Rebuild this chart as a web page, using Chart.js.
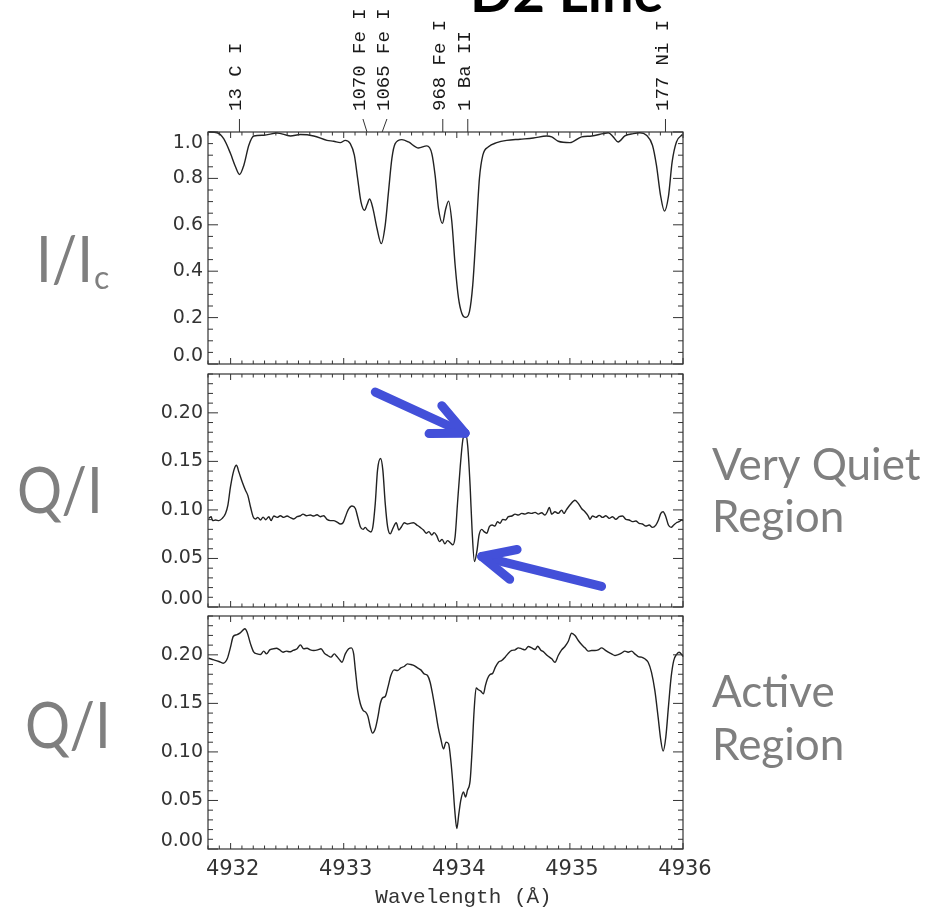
<!DOCTYPE html>
<html>
<head>
<meta charset="utf-8">
<script src="https://cdn.jsdelivr.net/npm/chart.js@4.4.1/dist/chart.umd.min.js"></script>
<style>
  html, body { margin: 0; padding: 0; background: #fff; }
  body { width: 936px; height: 914px; position: relative; overflow: hidden; }
  canvas { position: absolute; left: 0; }
</style>
</head>
<body>
<canvas id="intensity" width="936" height="372" style="top:0px"></canvas>
<canvas id="quiet" width="936" height="240" style="top:372px"></canvas>
<canvas id="active" width="936" height="302" style="top:612px"></canvas>

<script>
// wavelength axis (Angstrom)
const waveMin = 4931.8;
const waveMax = 4936;
const waveTicks = [4932, 4933, 4934, 4935, 4936];

// line identifications above the top panel
const lineNames = ["13 C I", "1070 Fe I", "1065 Fe I", "968 Fe I", "1 Ba II", "177 Ni I"];
const lineWave = [4932.078, 4933.206, 4933.340, 4933.876, 4934.097, 4935.845];
const lineLabelWave = [4932.078, 4933.170, 4933.382, 4933.876, 4934.097, 4935.845];

// I/Ic intensity profile
const intensityWave = [
  4931.805, 4931.881, 4931.940, 4931.999, 4932.043, 4932.079, 4932.117, 4932.161, 4932.205, 4932.293,
  4932.411, 4932.529, 4932.617, 4932.735, 4932.852, 4932.911, 4932.970, 4933.014, 4933.058, 4933.094,
  4933.123, 4933.152, 4933.185, 4933.205, 4933.229, 4933.258, 4933.294, 4933.332, 4933.367, 4933.396,
  4933.426, 4933.455, 4933.514, 4933.573, 4933.661, 4933.735, 4933.779, 4933.808, 4933.838, 4933.873,
  4933.900, 4933.927, 4933.956, 4933.985, 4934.015, 4934.044, 4934.077, 4934.112, 4934.141, 4934.171,
  4934.200, 4934.230, 4934.280, 4934.353, 4934.441, 4934.559, 4934.677, 4934.794, 4934.839, 4934.897,
  4935.000, 4935.103, 4935.192, 4935.295, 4935.339, 4935.383, 4935.427, 4935.486, 4935.560, 4935.618,
  4935.677, 4935.730, 4935.765, 4935.801, 4935.836, 4935.871, 4935.904, 4935.942, 4935.995
];
const intensityValue = [
  1.000, 0.997, 0.970, 0.907, 0.850, 0.817, 0.857, 0.943, 0.983, 0.986,
  0.996, 0.983, 0.989, 0.983, 0.964, 0.960, 0.954, 0.964, 0.950, 0.900,
  0.800, 0.700, 0.662, 0.685, 0.711, 0.671, 0.585, 0.519, 0.599, 0.742,
  0.886, 0.950, 0.967, 0.957, 0.931, 0.940, 0.907, 0.814, 0.671, 0.606,
  0.665, 0.702, 0.613, 0.427, 0.284, 0.219, 0.201, 0.226, 0.341, 0.570,
  0.800, 0.900, 0.936, 0.954, 0.964, 0.969, 0.974, 0.983, 0.979, 0.960,
  0.954, 0.979, 0.983, 0.993, 0.997, 0.979, 0.957, 0.983, 0.993, 0.997,
  0.986, 0.943, 0.857, 0.728, 0.659, 0.721, 0.871, 0.957, 0.989
];

// Q/I, very quiet region
const quietWave = [
  4931.805, 4931.828, 4931.840, 4931.867, 4931.896, 4931.926, 4931.955, 4931.976, 4931.999, 4932.029,
  4932.052, 4932.073, 4932.102, 4932.132, 4932.152, 4932.176, 4932.199, 4932.220, 4932.240, 4932.264,
  4932.287, 4932.311, 4932.338, 4932.358, 4932.382, 4932.411, 4932.440, 4932.470, 4932.499, 4932.529,
  4932.558, 4932.588, 4932.617, 4932.640, 4932.670, 4932.705, 4932.735, 4932.764, 4932.793, 4932.823,
  4932.852, 4932.882, 4932.911, 4932.941, 4932.970, 4932.994, 4933.015, 4933.038, 4933.073, 4933.103,
  4933.123, 4933.147, 4933.171, 4933.191, 4933.211, 4933.240, 4933.258, 4933.279, 4933.299, 4933.326,
  4933.346, 4933.367, 4933.388, 4933.411, 4933.435, 4933.464, 4933.488, 4933.511, 4933.535, 4933.564,
  4933.588, 4933.617, 4933.647, 4933.676, 4933.705, 4933.729, 4933.753, 4933.779, 4933.799, 4933.823,
  4933.846, 4933.870, 4933.894, 4933.918, 4933.941, 4933.965, 4933.985, 4934.006, 4934.030, 4934.053,
  4934.077, 4934.097, 4934.118, 4934.135, 4934.156, 4934.177, 4934.197, 4934.221, 4934.241, 4934.265,
  4934.288, 4934.312, 4934.338, 4934.359, 4934.383, 4934.406, 4934.430, 4934.456, 4934.486, 4934.515,
  4934.544, 4934.574, 4934.603, 4934.633, 4934.662, 4934.692, 4934.721, 4934.750, 4934.780, 4934.800,
  4934.818, 4934.839, 4934.868, 4934.897, 4934.927, 4934.947, 4934.971, 4935.000, 4935.045, 4935.074,
  4935.103, 4935.133, 4935.162, 4935.177, 4935.200, 4935.230, 4935.259, 4935.289, 4935.318, 4935.348,
  4935.377, 4935.406, 4935.436, 4935.465, 4935.495, 4935.524, 4935.553, 4935.583, 4935.612, 4935.642,
  4935.671, 4935.701, 4935.730, 4935.760, 4935.783, 4935.804, 4935.824, 4935.848, 4935.871, 4935.895,
  4935.918, 4935.942, 4935.965, 4935.989, 4936.000
];
const quietValue = [
  0.0913, 0.0930, 0.0890, 0.0896, 0.0890, 0.0913, 0.0964, 0.1050, 0.1240, 0.1410,
  0.1460, 0.1390, 0.1290, 0.1200, 0.1150, 0.1030, 0.0930, 0.0906, 0.0923, 0.0896,
  0.0926, 0.0899, 0.0930, 0.0890, 0.0937, 0.0923, 0.0940, 0.0923, 0.0937, 0.0920,
  0.0906, 0.0930, 0.0940, 0.0957, 0.0940, 0.0947, 0.0937, 0.0950, 0.0930, 0.0940,
  0.0903, 0.0890, 0.0890, 0.0875, 0.0855, 0.0868, 0.0930, 0.0998, 0.1040, 0.1015,
  0.0930, 0.0827, 0.0800, 0.0820, 0.0793, 0.0773, 0.0827, 0.1067, 0.1410, 0.1530,
  0.1410, 0.1067, 0.0827, 0.0753, 0.0810, 0.0868, 0.0793, 0.0827, 0.0868, 0.0855,
  0.0862, 0.0868, 0.0844, 0.0820, 0.0793, 0.0760, 0.0776, 0.0742, 0.0766, 0.0732,
  0.0673, 0.0697, 0.0650, 0.0684, 0.0663, 0.0640, 0.0725, 0.1066, 0.1440, 0.1720,
  0.1790, 0.1650, 0.1240, 0.0793, 0.0468, 0.0570, 0.0742, 0.0800, 0.0776, 0.0760,
  0.0827, 0.0844, 0.0834, 0.0879, 0.0862, 0.0903, 0.0896, 0.0930, 0.0937, 0.0957,
  0.0947, 0.0964, 0.0957, 0.0971, 0.0964, 0.0975, 0.0957, 0.0971, 0.0947, 0.0981,
  0.1026, 0.0957, 0.0981, 0.0964, 0.0998, 0.0964, 0.1005, 0.1050, 0.1100, 0.1067,
  0.1015, 0.0981, 0.0937, 0.0903, 0.0937, 0.0923, 0.0944, 0.0923, 0.0940, 0.0913,
  0.0930, 0.0903, 0.0930, 0.0937, 0.0903, 0.0896, 0.0879, 0.0886, 0.0862, 0.0855,
  0.0834, 0.0844, 0.0820, 0.0844, 0.0896, 0.0964, 0.0981, 0.0930, 0.0844, 0.0820,
  0.0844, 0.0868, 0.0879, 0.0896, 0.0890
];

// Q/I, active region
const activeWave = [
  4931.805, 4931.852, 4931.896, 4931.934, 4931.970, 4931.999, 4932.023, 4932.052, 4932.082, 4932.111,
  4932.126, 4932.146, 4932.176, 4932.205, 4932.235, 4932.264, 4932.293, 4932.317, 4932.346, 4932.376,
  4932.405, 4932.434, 4932.464, 4932.493, 4932.523, 4932.552, 4932.588, 4932.617, 4932.646, 4932.676,
  4932.705, 4932.735, 4932.770, 4932.799, 4932.829, 4932.858, 4932.887, 4932.917, 4932.940, 4932.964,
  4932.985, 4933.014, 4933.044, 4933.067, 4933.088, 4933.102, 4933.123, 4933.147, 4933.171, 4933.194,
  4933.214, 4933.235, 4933.255, 4933.279, 4933.302, 4933.323, 4933.344, 4933.367, 4933.391, 4933.417,
  4933.446, 4933.476, 4933.505, 4933.535, 4933.564, 4933.594, 4933.623, 4933.652, 4933.682, 4933.711,
  4933.741, 4933.764, 4933.788, 4933.811, 4933.835, 4933.858, 4933.882, 4933.905, 4933.927, 4933.947,
  4933.965, 4933.982, 4934.000, 4934.018, 4934.035, 4934.059, 4934.077, 4934.094, 4934.118, 4934.135,
  4934.153, 4934.171, 4934.191, 4934.212, 4934.235, 4934.253, 4934.271, 4934.294, 4934.318, 4934.341,
  4934.368, 4934.397, 4934.427, 4934.456, 4934.486, 4934.515, 4934.544, 4934.574, 4934.603, 4934.633,
  4934.662, 4934.692, 4934.715, 4934.741, 4934.771, 4934.800, 4934.839, 4934.868, 4934.897, 4934.927,
  4934.956, 4934.986, 4935.015, 4935.045, 4935.074, 4935.103, 4935.133, 4935.162, 4935.192, 4935.221,
  4935.250, 4935.280, 4935.309, 4935.339, 4935.368, 4935.398, 4935.427, 4935.456, 4935.486, 4935.515,
  4935.545, 4935.574, 4935.604, 4935.633, 4935.662, 4935.692, 4935.721, 4935.751, 4935.780, 4935.804,
  4935.824, 4935.848, 4935.871, 4935.895, 4935.918, 4935.942, 4935.965, 4935.989, 4936.000
];
const activeValue = [
  0.1965, 0.1948, 0.1931, 0.1914, 0.1959, 0.2079, 0.2189, 0.2206, 0.2223, 0.2257,
  0.2268, 0.2233, 0.2113, 0.2027, 0.2010, 0.2003, 0.2038, 0.2010, 0.2051, 0.2062,
  0.2068, 0.2051, 0.2027, 0.2038, 0.2031, 0.2045, 0.2062, 0.2103, 0.2062, 0.2068,
  0.2051, 0.2045, 0.2051, 0.2062, 0.2017, 0.1993, 0.1976, 0.2010, 0.1982, 0.1948,
  0.1924, 0.2010, 0.2062, 0.2072, 0.2010, 0.1856, 0.1633, 0.1496, 0.1427, 0.1410,
  0.1366, 0.1256, 0.1194, 0.1238, 0.1358, 0.1496, 0.1557, 0.1571, 0.1667, 0.1787,
  0.1845, 0.1838, 0.1866, 0.1880, 0.1907, 0.1900, 0.1890, 0.1866, 0.1845, 0.1804,
  0.1787, 0.1718, 0.1581, 0.1427, 0.1256, 0.1136, 0.1032, 0.1101, 0.1084, 0.0912,
  0.0672, 0.0398, 0.0210, 0.0364, 0.0501, 0.0587, 0.0535, 0.0604, 0.0707, 0.1016,
  0.1427, 0.1660, 0.1640, 0.1626, 0.1598, 0.1684, 0.1753, 0.1797, 0.1811, 0.1873,
  0.1924, 0.1941, 0.1976, 0.2017, 0.2045, 0.2051, 0.2072, 0.2062, 0.2051, 0.2086,
  0.2072, 0.2055, 0.2089, 0.2051, 0.2027, 0.1993, 0.1959, 0.1924, 0.1993, 0.2051,
  0.2086, 0.2140, 0.2223, 0.2199, 0.2148, 0.2106, 0.2072, 0.2038, 0.2045, 0.2045,
  0.2051, 0.2072, 0.2051, 0.2027, 0.2010, 0.1993, 0.2003, 0.2017, 0.2038, 0.2027,
  0.2038, 0.2010, 0.1982, 0.1976, 0.1959, 0.1924, 0.1821, 0.1633, 0.1358, 0.1118,
  0.1008, 0.1153, 0.1461, 0.1770, 0.1941, 0.2003, 0.2027, 0.2003, 0.1982
];

// y tick labels for each panel
const intensityTicks = [0, 0.2, 0.4, 0.6, 0.8, 1.0];
const polTicks = [0, 0.05, 0.10, 0.15, 0.20];

// arrows marking the Ba II Q/I peak and dip: [wavelength, Q/I]
const arrowTips = [[4934.073, 0.179], [4934.221, 0.052]];
const arrowTails = [[4933.279, 0.2214], [4935.280, 0.0212]];

const GREY = "#7f7f7f";
const INK = "#333";

function seg(ctx, x1, y1, x2, y2) {
  ctx.beginPath();
  ctx.moveTo(x1, y1);
  ctx.lineTo(x2, y2);
  ctx.stroke();
}

// IDL style box: frame, inward ticks on all sides, y tick labels
const boxPlugin = {
  id: "box",
  afterDatasetsDraw(chart, args, opts) {
    const { ctx, chartArea: a, scales: { x, y } } = chart;
    ctx.save();
    ctx.strokeStyle = INK;
    ctx.lineWidth = 1.2;
    ctx.strokeRect(a.left, a.top, a.right - a.left, a.bottom - a.top);

    ctx.lineWidth = 1;
    for (let k = Math.ceil(waveMin * 10); k <= waveMax * 10; k++) {
      const px = x.getPixelForValue(k / 10);
      const len = k % 10 === 0 ? 6 : 3.5;
      seg(ctx, px, a.top, px, a.top + len);
      seg(ctx, px, a.bottom, px, a.bottom - len);
    }
    const n = Math.round(opts.yMax / opts.minor);
    for (let k = 0; k <= n; k++) {
      const py = y.getPixelForValue(k * opts.minor);
      const len = k % opts.perMajor === 0 ? 10 : 5;
      seg(ctx, a.left, py, a.left + len, py);
      seg(ctx, a.right, py, a.right - len, py);
    }

    ctx.fillStyle = INK;
    ctx.font = '19px "DejaVu Sans"';
    ctx.textAlign = "right";
    ctx.textBaseline = "middle";
    opts.ticks.forEach((v, i) => {
      let py = y.getPixelForValue(v);
      if (i === 0) py -= 8;
      if (py - a.top < 8) py += 11;
      ctx.fillText(v.toFixed(opts.digits), a.left - 5, py);
    });
    ctx.restore();
  }
};

function lineSet(wave, value) {
  return {
    data: wave.map((w, i) => ({ x: w, y: value[i] })),
    borderColor: "#222",
    borderWidth: 1.4,
    pointRadius: 0,
    cubicInterpolationMode: "monotone",
    clip: 2
  };
}

function makePanel(id, wave, value, yMax, box, padding, extras) {
  return new Chart(document.getElementById(id), {
    type: "line",
    data: { datasets: [lineSet(wave, value)] },
    options: {
      responsive: false,
      animation: false,
      events: [],
      layout: { padding },
      scales: {
        x: { type: "linear", min: waveMin, max: waveMax, display: false },
        y: { type: "linear", min: 0, max: yMax, display: false }
      },
      plugins: { legend: { display: false }, tooltip: { enabled: false }, box }
    },
    plugins: [boxPlugin, { id: "extras", afterDraw: extras }]
  });
}

// grey slide-style captions, slightly condensed
function sideText(ctx, lines, x, y0, step, size, squeeze) {
  ctx.save();
  ctx.fillStyle = GREY;
  ctx.font = size + "px Lato";
  ctx.textAlign = "left";
  ctx.textBaseline = "alphabetic";
  ctx.translate(x, y0);
  ctx.scale(squeeze, 1);
  lines.forEach((t, i) => ctx.fillText(t, 0, i * step));
  ctx.restore();
}

makePanel("intensity", intensityWave, intensityValue, 1.0,
  { yMax: 1.0, minor: 0.05, perMajor: 4, ticks: intensityTicks, digits: 1 },
  { left: 208, right: 253, top: 132, bottom: 8 },
  chart => {
    const { ctx, chartArea: a, scales: { x } } = chart;
    ctx.save();
    // title
    ctx.fillStyle = "#000";
    ctx.font = "bold 56px Lato";
    ctx.textBaseline = "alphabetic";
    ctx.fillText("D2 Line", 470, 12);
    // line identifications
    ctx.strokeStyle = INK;
    ctx.lineWidth = 1;
    ctx.fillStyle = "#1a1a1a";
    ctx.font = '19px "Liberation Mono"';
    lineNames.forEach((name, i) => {
      const top = x.getPixelForValue(lineLabelWave[i]);
      seg(ctx, top, 119, x.getPixelForValue(lineWave[i]), a.top);
      ctx.save();
      ctx.translate(top - 3, 111);
      ctx.rotate(-Math.PI / 2);
      ctx.textAlign = "left";
      ctx.textBaseline = "middle";
      ctx.fillText(name, 0, 0);
      ctx.restore();
    });
    ctx.restore();
    // y label with subscript
    sideText(ctx, ["I/I"], 36, 282, 0, 64, 0.88);
    ctx.save();
    ctx.font = "64px Lato";
    const w = ctx.measureText("I/I").width * 0.88;
    ctx.restore();
    sideText(ctx, ["c"], 36 + w + 1, 289, 0, 32, 1);
  });

makePanel("quiet", quietWave, quietValue, 0.24,
  { yMax: 0.24, minor: 0.01, perMajor: 5, ticks: polTicks, digits: 2 },
  { left: 208, right: 253, top: 2, bottom: 5 },
  chart => {
    const { ctx, scales: { x, y } } = chart;
    sideText(ctx, ["Q/I"], 17, 141, 0, 64, 0.88);
    sideText(ctx, ["Very Quiet", "Region"], 712, 108, 52, 44, 1);
    // arrows
    ctx.save();
    ctx.strokeStyle = "#4350d9";
    ctx.lineWidth = 9;
    ctx.lineCap = "round";
    ctx.lineJoin = "round";
    arrowTips.forEach((tip, i) => {
      const tx = x.getPixelForValue(tip[0]), ty = y.getPixelForValue(tip[1]);
      const bx = x.getPixelForValue(arrowTails[i][0]), by = y.getPixelForValue(arrowTails[i][1]);
      const ang = Math.atan2(by - ty, bx - tx);
      seg(ctx, bx, by, tx, ty);
      [-0.44, 0.44].forEach(d => {
        seg(ctx, tx, ty, tx + 36 * Math.cos(ang + d), ty + 36 * Math.sin(ang + d));
      });
    });
    ctx.restore();
  });

makePanel("active", activeWave, activeValue, 0.24,
  { yMax: 0.24, minor: 0.01, perMajor: 5, ticks: polTicks, digits: 2 },
  { left: 208, right: 253, top: 4, bottom: 65 },
  chart => {
    const { ctx, chartArea: a, scales: { x } } = chart;
    sideText(ctx, ["Q/I"], 25, 136, 0, 64, 0.88);
    sideText(ctx, ["Active", "Region"], 712, 95, 53, 44, 1);
    ctx.save();
    ctx.fillStyle = INK;
    ctx.textAlign = "center";
    ctx.textBaseline = "middle";
    ctx.font = '21px "DejaVu Sans"';
    waveTicks.forEach(w => ctx.fillText(String(w), x.getPixelForValue(w) + 2, a.bottom + 21));
    ctx.font = '21px "Liberation Mono"';
    ctx.fillText("Wavelength (\u00c5)", (a.left + a.right) / 2 + 18, a.bottom + 48);
    ctx.restore();
  });
</script>
</body>
</html>
